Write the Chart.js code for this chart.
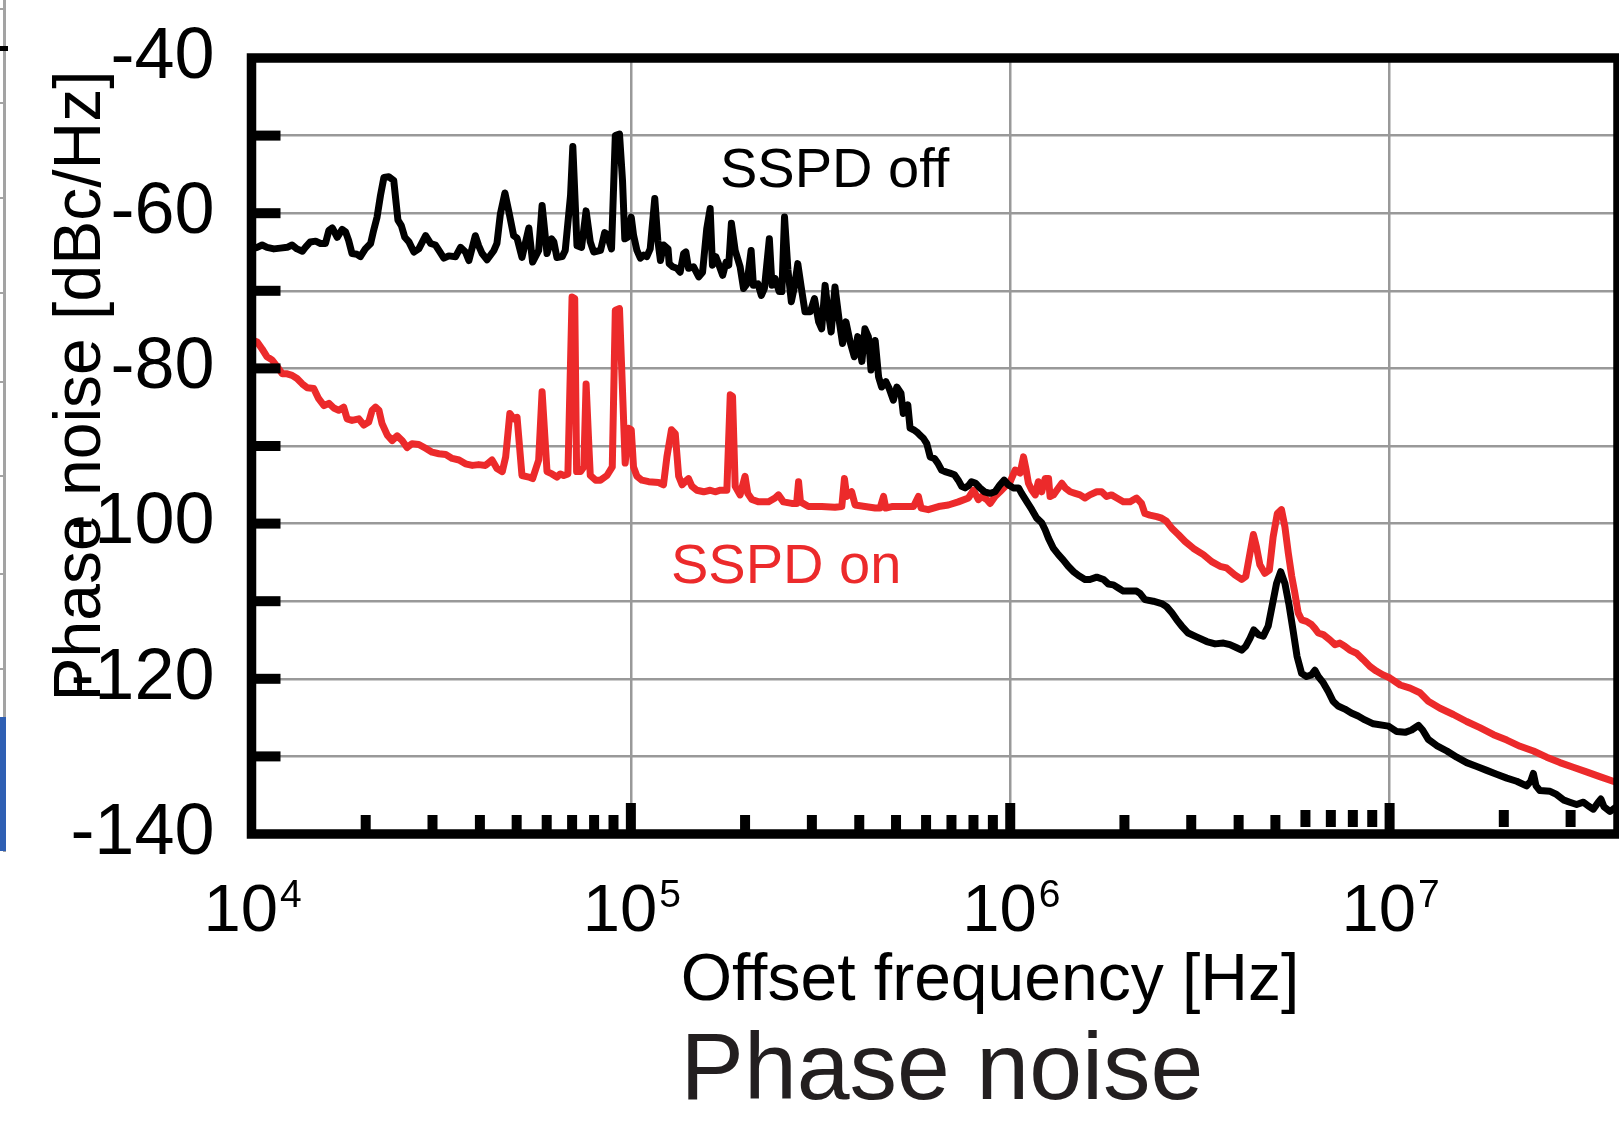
<!DOCTYPE html>
<html>
<head>
<meta charset="utf-8">
<script src="https://cdn.jsdelivr.net/npm/chart.js@4.4.1/dist/chart.umd.min.js"></script>
<style>
  html, body { margin: 0; padding: 0; background: #fff; }
  #wrap { width: 1619px; height: 1126px; }
</style>
</head>
<body>
<div id="wrap"><canvas id="ruido" width="1619" height="1126"></canvas></div>
<script>
// decades on the x axis and their exponents (tick labels are 10^n)
const decades = [1e4, 1e5, 1e6, 1e7];
const exponents = ['4', '5', '6', '7'];
const yLabels = [-40, -60, -80, -100, -120, -140];
const minorTicks = [2e4, 3e4, 4e4, 5e4, 6e4, 7e4, 8e4, 9e4,
                    2e5, 3e5, 4e5, 5e5, 6e5, 7e5, 8e5, 9e5,
                    2e6, 3e6, 4e6, 5e6];
const floatTicks = [6e6, 7e6, 8e6, 9e6, 2e7, 3e7];

// [log10(f / Hz), dBc/Hz]
const sspdOff = [
  [4.000,-64.6],[4.015,-64.4],[4.028,-64.1],[4.041,-64.4],[4.059,-64.6],[4.076,-64.5],[4.094,-64.4],[4.107,-64.1],
  [4.120,-64.6],[4.134,-64.9],[4.142,-64.4],[4.155,-63.7],[4.169,-63.6],[4.182,-63.9],[4.195,-63.9],[4.204,-62.2],
  [4.213,-61.9],[4.226,-63.1],[4.239,-62.1],[4.248,-62.4],[4.256,-63.5],[4.265,-65.2],[4.278,-65.3],[4.287,-65.6],
  [4.300,-64.6],[4.314,-63.9],[4.322,-62.2],[4.331,-60.5],[4.340,-57.7],[4.349,-55.4],[4.362,-55.3],[4.375,-55.8],
  [4.386,-60.9],[4.395,-61.6],[4.404,-63.1],[4.415,-63.7],[4.428,-65.0],[4.441,-64.6],[4.459,-62.9],[4.472,-63.9],
  [4.485,-64.1],[4.494,-64.8],[4.507,-65.8],[4.520,-65.5],[4.538,-65.6],[4.551,-64.4],[4.564,-65.0],[4.573,-66.1],
  [4.590,-62.9],[4.599,-64.2],[4.608,-65.2],[4.621,-66.0],[4.639,-64.8],[4.647,-63.9],[4.656,-60.1],[4.668,-57.4],
  [4.678,-59.7],[4.691,-62.9],[4.700,-63.2],[4.713,-65.7],[4.731,-61.9],[4.741,-66.3],[4.757,-64.8],[4.766,-59.0],
  [4.779,-65.2],[4.791,-63.3],[4.797,-63.7],[4.805,-65.7],[4.819,-65.6],[4.827,-64.8],[4.841,-57.7],[4.847,-51.4],
  [4.858,-64.2],[4.870,-64.4],[4.882,-59.7],[4.893,-63.7],[4.902,-65.0],[4.920,-64.8],[4.931,-62.5],[4.937,-62.7],
  [4.949,-64.6],[4.959,-50.0],[4.970,-49.8],[4.978,-55.8],[4.984,-63.3],[4.992,-63.1],[5.001,-60.5],[5.007,-62.8],
  [5.016,-64.8],[5.025,-65.8],[5.034,-65.4],[5.042,-65.6],[5.051,-64.6],[5.063,-58.1],[5.071,-63.5],[5.078,-66.1],
  [5.086,-64.1],[5.098,-64.6],[5.101,-66.5],[5.110,-66.9],[5.121,-67.1],[5.130,-67.6],[5.139,-65.2],[5.145,-65.0],
  [5.152,-67.1],[5.165,-66.9],[5.179,-68.2],[5.189,-67.6],[5.200,-62.0],[5.209,-59.4],[5.215,-66.7],[5.224,-65.6],
  [5.231,-66.5],[5.242,-68.0],[5.251,-66.3],[5.258,-66.7],[5.265,-61.3],[5.275,-64.8],[5.288,-66.9],[5.297,-69.7],
  [5.306,-69.1],[5.317,-64.8],[5.323,-69.3],[5.335,-69.1],[5.344,-70.6],[5.352,-69.7],[5.365,-63.3],[5.372,-69.3],
  [5.380,-68.4],[5.391,-70.1],[5.398,-70.1],[5.405,-60.5],[5.414,-67.3],[5.423,-71.4],[5.431,-69.5],[5.440,-66.5],
  [5.449,-69.5],[5.459,-72.7],[5.473,-72.7],[5.484,-71.0],[5.495,-74.0],[5.503,-74.9],[5.512,-69.3],[5.519,-72.3],
  [5.528,-75.3],[5.538,-69.5],[5.549,-73.8],[5.558,-76.8],[5.567,-74.0],[5.578,-76.6],[5.589,-78.5],[5.598,-75.9],
  [5.609,-79.1],[5.617,-74.9],[5.626,-75.9],[5.633,-80.2],[5.644,-76.4],[5.653,-81.1],[5.661,-82.4],[5.672,-81.7],
  [5.681,-82.6],[5.692,-84.1],[5.701,-82.4],[5.712,-83.2],[5.718,-85.8],[5.730,-84.7],[5.736,-87.7],[5.745,-87.9],
  [5.754,-88.2],[5.762,-88.6],[5.771,-89.0],[5.780,-89.7],[5.789,-91.4],[5.800,-91.6],[5.809,-92.2],[5.819,-93.1],
  [5.828,-93.3],[5.841,-93.5],[5.853,-93.7],[5.863,-94.4],[5.872,-95.2],[5.881,-95.4],[5.890,-95.1],[5.898,-94.6],
  [5.909,-94.8],[5.920,-95.4],[5.932,-95.9],[5.947,-96.1],[5.960,-95.9],[5.973,-95.0],[5.984,-94.4],[5.995,-95.0],
  [6.008,-95.4],[6.022,-95.4],[6.030,-96.1],[6.044,-97.2],[6.057,-98.2],[6.070,-99.3],[6.083,-99.9],[6.092,-100.8],
  [6.101,-101.9],[6.114,-103.2],[6.127,-104.0],[6.140,-104.7],[6.153,-105.5],[6.167,-106.2],[6.180,-106.7],[6.197,-107.2],
  [6.210,-107.2],[6.228,-106.9],[6.246,-107.2],[6.259,-107.8],[6.272,-107.9],[6.285,-108.3],[6.298,-108.7],[6.316,-108.7],
  [6.333,-108.7],[6.342,-109.0],[6.355,-109.8],[6.377,-110.0],[6.399,-110.3],[6.412,-110.7],[6.426,-111.5],[6.439,-112.4],
  [6.452,-113.2],[6.469,-114.1],[6.491,-114.6],[6.518,-115.2],[6.540,-115.5],[6.562,-115.4],[6.579,-115.6],[6.597,-116.0],
  [6.610,-116.3],[6.621,-115.8],[6.632,-114.8],[6.642,-113.7],[6.654,-114.3],[6.667,-114.5],[6.680,-113.2],[6.692,-110.2],
  [6.702,-107.7],[6.713,-106.2],[6.724,-107.7],[6.735,-110.5],[6.746,-113.9],[6.756,-117.1],[6.768,-119.3],[6.781,-119.7],
  [6.794,-119.5],[6.803,-118.9],[6.812,-119.7],[6.825,-120.5],[6.838,-121.6],[6.851,-122.9],[6.864,-123.5],[6.882,-123.9],
  [6.899,-124.4],[6.917,-124.8],[6.935,-125.3],[6.957,-125.8],[6.997,-126.1],[7.019,-126.8],[7.041,-126.9],[7.058,-126.6],
  [7.076,-126.0],[7.087,-126.6],[7.102,-127.8],[7.124,-128.6],[7.151,-129.3],[7.177,-130.1],[7.203,-130.8],[7.230,-131.3],
  [7.256,-131.8],[7.282,-132.3],[7.309,-132.8],[7.335,-133.2],[7.361,-133.8],[7.372,-133.2],[7.379,-132.2],[7.386,-133.8],
  [7.396,-134.4],[7.423,-134.5],[7.440,-134.9],[7.458,-135.6],[7.475,-135.9],[7.493,-136.2],[7.511,-135.9],[7.524,-136.4],
  [7.537,-136.8],[7.550,-135.9],[7.557,-135.5],[7.565,-136.5],[7.581,-137.1],[7.595,-136.6]
];

const sspdOn = [
  [4.000,-76.3],[4.015,-76.6],[4.028,-77.5],[4.041,-78.5],[4.054,-78.9],[4.068,-79.8],[4.081,-80.7],[4.094,-80.7],
  [4.107,-80.9],[4.120,-81.3],[4.134,-82.0],[4.147,-82.5],[4.164,-82.6],[4.177,-83.9],[4.191,-84.8],[4.204,-84.5],
  [4.217,-85.1],[4.230,-85.4],[4.243,-85.0],[4.252,-86.5],[4.265,-86.7],[4.283,-86.5],[4.296,-87.3],[4.309,-86.9],
  [4.318,-85.4],[4.327,-85.0],[4.336,-85.4],[4.344,-87.1],[4.358,-88.6],[4.371,-89.3],[4.384,-88.7],[4.397,-89.3],
  [4.410,-90.2],[4.423,-89.7],[4.441,-89.8],[4.459,-90.3],[4.476,-90.8],[4.494,-91.0],[4.512,-91.1],[4.529,-91.6],
  [4.547,-91.8],[4.564,-92.3],[4.582,-92.5],[4.599,-92.4],[4.617,-92.5],[4.634,-91.8],[4.647,-92.9],[4.661,-93.3],
  [4.670,-91.4],[4.681,-85.8],[4.691,-86.5],[4.700,-86.3],[4.713,-93.8],[4.731,-94.0],[4.741,-94.2],[4.757,-91.8],
  [4.766,-83.0],[4.779,-93.3],[4.792,-93.6],[4.805,-94.0],[4.814,-93.6],[4.823,-93.8],[4.834,-93.6],[4.845,-70.8],
  [4.852,-71.0],[4.857,-93.3],[4.867,-93.3],[4.876,-92.7],[4.882,-82.0],[4.889,-89.7],[4.893,-93.8],[4.907,-94.4],
  [4.920,-94.4],[4.937,-93.8],[4.951,-92.7],[4.959,-72.5],[4.970,-72.3],[4.985,-92.2],[4.994,-87.7],[5.001,-87.9],
  [5.007,-92.7],[5.016,-93.9],[5.029,-94.4],[5.047,-94.6],[5.073,-94.7],[5.086,-95.0],[5.095,-91.4],[5.107,-87.9],
  [5.117,-88.4],[5.126,-93.9],[5.135,-95.0],[5.143,-94.6],[5.152,-94.2],[5.161,-95.2],[5.174,-95.7],[5.192,-95.9],
  [5.209,-95.7],[5.222,-95.9],[5.236,-95.7],[5.253,-95.7],[5.262,-83.4],[5.268,-83.6],[5.275,-95.2],[5.288,-96.3],
  [5.301,-93.9],[5.308,-96.1],[5.319,-96.9],[5.337,-97.2],[5.363,-97.2],[5.380,-96.7],[5.389,-96.3],[5.402,-97.2],
  [5.424,-97.4],[5.437,-97.4],[5.442,-94.6],[5.447,-97.2],[5.468,-97.8],[5.503,-97.8],[5.538,-97.9],[5.556,-97.8],
  [5.563,-94.2],[5.569,-96.5],[5.582,-95.9],[5.591,-97.6],[5.617,-97.8],[5.644,-98.0],[5.657,-98.0],[5.666,-96.5],
  [5.672,-98.0],[5.688,-97.8],[5.714,-97.8],[5.745,-97.8],[5.758,-96.5],[5.765,-98.0],[5.784,-98.2],[5.811,-97.8],
  [5.837,-97.6],[5.863,-97.2],[5.890,-96.7],[5.903,-95.7],[5.916,-96.9],[5.925,-96.5],[5.938,-96.9],[5.947,-97.4],
  [5.960,-96.5],[5.973,-95.9],[5.987,-95.2],[6.000,-94.6],[6.013,-93.1],[6.026,-93.5],[6.035,-91.4],[6.042,-93.1],
  [6.048,-94.8],[6.057,-95.7],[6.066,-96.3],[6.074,-94.6],[6.083,-95.9],[6.092,-94.2],[6.101,-94.2],[6.105,-96.5],
  [6.114,-96.3],[6.127,-95.4],[6.136,-94.8],[6.145,-95.4],[6.158,-95.9],[6.171,-96.1],[6.184,-96.3],[6.197,-96.7],
  [6.210,-96.3],[6.228,-95.9],[6.241,-95.9],[6.254,-96.5],[6.267,-96.3],[6.281,-96.7],[6.298,-97.2],[6.316,-97.2],
  [6.333,-96.7],[6.346,-97.4],[6.355,-98.7],[6.368,-98.9],[6.386,-99.1],[6.399,-99.3],[6.412,-99.7],[6.426,-100.6],
  [6.443,-101.4],[6.461,-102.3],[6.483,-103.2],[6.509,-104.0],[6.531,-104.9],[6.553,-105.5],[6.570,-105.7],[6.592,-106.6],
  [6.610,-107.2],[6.621,-106.8],[6.632,-103.8],[6.641,-101.4],[6.649,-103.0],[6.658,-105.3],[6.671,-106.4],[6.683,-106.0],
  [6.693,-101.7],[6.704,-98.7],[6.715,-98.2],[6.724,-100.4],[6.733,-103.8],[6.742,-106.8],[6.750,-108.9],[6.759,-111.5],
  [6.768,-112.4],[6.781,-112.6],[6.794,-113.0],[6.803,-113.5],[6.812,-114.1],[6.825,-114.3],[6.843,-115.0],[6.856,-115.6],
  [6.869,-115.4],[6.882,-115.8],[6.895,-116.3],[6.913,-116.7],[6.930,-117.5],[6.948,-118.4],[6.965,-119.0],[6.983,-119.5],
  [7.001,-119.9],[7.028,-120.8],[7.054,-121.2],[7.080,-121.8],[7.102,-122.9],[7.133,-123.8],[7.168,-124.6],[7.203,-125.5],
  [7.238,-126.3],[7.274,-127.2],[7.309,-127.9],[7.344,-128.7],[7.379,-129.3],[7.414,-130.1],[7.449,-130.8],[7.484,-131.4],
  [7.519,-132.0],[7.554,-132.6],[7.595,-133.3]
];

const RED = '#ec2a2b';
const FONT = "'Liberation Sans', Arial, sans-serif";

function toPoints(serie) {
    return serie.map(p => ({ x: Math.pow(10, p[0]), y: p[1] }));
}

// frame, inward ticks, superscript labels and the loose texts
const marco = {
    id: 'marco',
    afterDraw(chart) {
        const { ctx, chartArea: a, scales: { x, y } } = chart;
        ctx.save();

        // sliver of the neighbouring figure at the left edge
        ctx.fillStyle = '#a3a3a3';
        ctx.fillRect(3, 0, 3, 852);
        [9, 103, 198, 293, 382, 476, 574, 669].forEach(py => ctx.fillRect(0, py - 1, 4, 2));
        ctx.fillStyle = '#2f5fb3';
        ctx.fillRect(0, 717, 6, 134);
        ctx.fillStyle = '#000';
        ctx.fillRect(0, 46, 8, 5);

        // inward ticks
        ctx.fillStyle = '#000';
        y.ticks.forEach(t => {
            if (t.value <= -140 || t.value >= -40) return;
            const py = y.getPixelForValue(t.value);
            ctx.fillRect(a.left, py - 5, 29, 10);
        });
        decades.slice(1).forEach(v => {
            const px = x.getPixelForValue(v);
            ctx.fillRect(px - 5, a.bottom - 31, 10, 31);
        });
        minorTicks.forEach(v => {
            const px = x.getPixelForValue(v);
            ctx.fillRect(px - 5, a.bottom - 19, 10, 19);
        });
        floatTicks.forEach(v => {
            const px = x.getPixelForValue(v);
            ctx.fillRect(px - 5, a.bottom - 24, 10, 17);
        });

        // frame
        ctx.strokeStyle = '#000';
        ctx.lineWidth = 9.5;
        ctx.strokeRect(a.left, a.top, a.right - a.left, a.bottom - a.top);

        // x tick labels 10^n
        ctx.fillStyle = '#000';
        ctx.textBaseline = 'alphabetic';
        ctx.textAlign = 'left';
        decades.forEach((v, i) => {
            const px = x.getPixelForValue(v);
            ctx.font = '67px ' + FONT;
            const w10 = ctx.measureText('10').width;
            ctx.font = '39px ' + FONT;
            const wExp = ctx.measureText(exponents[i]).width;
            const x0 = px - (w10 + wExp) / 2;
            ctx.font = '67px ' + FONT;
            ctx.fillText('10', x0, 931);
            ctx.font = '39px ' + FONT;
            ctx.fillText(exponents[i], x0 + w10 + 2, 907);
        });

        // axis titles
        ctx.font = '66px ' + FONT;
        ctx.textAlign = 'center';
        ctx.fillText('Offset frequency [Hz]', 990, 1000);
        ctx.save();
        ctx.translate(100, 386);
        ctx.rotate(-Math.PI / 2);
        ctx.fillText('Phase noise [dBc/Hz]', 0, 0);
        ctx.restore();

        ctx.fillStyle = '#231f20';
        ctx.font = '95px ' + FONT;
        ctx.fillText('Phase noise', 942, 1099);

        // curve labels
        ctx.textAlign = 'left';
        ctx.font = '56px ' + FONT;
        ctx.fillStyle = '#000';
        ctx.fillText('SSPD off', 720, 187);
        ctx.fillStyle = RED;
        ctx.fillText('SSPD on', 671, 583);

        ctx.restore();
    }
};

const ctx = document.getElementById('ruido').getContext('2d');
const chart = new Chart(ctx, {
    type: 'line',
    data: {
        datasets: [{
            label: 'SSPD off',
            data: toPoints(sspdOff),
            borderColor: '#000',
            borderWidth: 7,
            pointRadius: 0,
            borderJoinStyle: 'round',
            borderCapStyle: 'round',
            fill: false
        }, {
            label: 'SSPD on',
            data: toPoints(sspdOn),
            borderColor: RED,
            borderWidth: 7,
            pointRadius: 0,
            borderJoinStyle: 'round',
            borderCapStyle: 'round',
            fill: false
        }]
    },
    options: {
        responsive: false,
        animation: false,
        devicePixelRatio: 1,
        layout: { padding: { top: 58, right: 1, left: 0, bottom: 0 } },
        scales: {
            x: {
                type: 'logarithmic',
                min: 1e4,
                max: 4e7,
                afterBuildTicks: scale => {
                    scale.ticks = decades.map(v => ({ value: v }));
                },
                afterFit: scale => {
                    scale.height = 292;
                    scale.paddingLeft = 0;
                    scale.paddingRight = 0;
                },
                ticks: { display: false },
                grid: { color: '#999999', lineWidth: 2.5, drawTicks: false },
                border: { display: false }
            },
            y: {
                min: -140,
                max: -40,
                afterFit: scale => {
                    scale.width = 251.5;
                    scale.paddingTop = 0;
                    scale.paddingBottom = 0;
                },
                ticks: {
                    stepSize: 10,
                    autoSkip: false,
                    padding: 37,
                    color: '#000',
                    font: { size: 72, family: FONT },
                    callback: v => (yLabels.includes(v) ? String(v) : '')
                },
                grid: { color: '#999999', lineWidth: 2.5, drawTicks: false },
                border: { display: false }
            }
        },
        plugins: {
            legend: { display: false },
            tooltip: { enabled: false }
        }
    },
    plugins: [marco]
});
</script>
</body>
</html>
